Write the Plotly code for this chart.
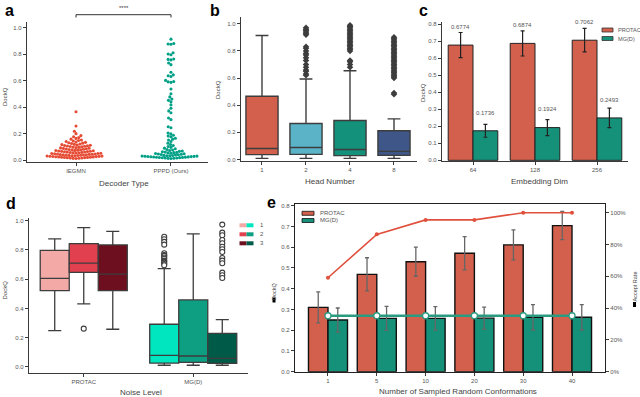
import plotly.graph_objects as go
import numpy as np

W, H = 640, 397

# ---- panel a: swarm of DockQ by decoder type
decoders = ['IEGMN', 'PPPD (Ours)']
iegmn = [0.012, 0.013, 0.014, 0.015, 0.016, 0.017, 0.018, 0.019, 0.020, 0.021,
         0.022, 0.023, 0.024, 0.025, 0.026, 0.027, 0.028, 0.029, 0.030, 0.031,
         0.032, 0.033, 0.034, 0.035, 0.036, 0.037, 0.038, 0.039, 0.040, 0.041,
         0.043, 0.044, 0.045, 0.046, 0.048, 0.049, 0.050, 0.051, 0.053, 0.054,
         0.055, 0.057, 0.058, 0.060, 0.061, 0.063, 0.064, 0.066, 0.067, 0.069,
         0.070, 0.072, 0.073, 0.075, 0.077, 0.078, 0.080, 0.082, 0.084, 0.086,
         0.088, 0.090, 0.092, 0.094, 0.096, 0.098, 0.100, 0.102, 0.104, 0.106,
         0.108, 0.110, 0.112, 0.114, 0.117, 0.119, 0.122, 0.125, 0.128, 0.131,
         0.134, 0.137, 0.140, 0.144, 0.148, 0.152, 0.158, 0.164, 0.170, 0.176,
         0.185, 0.200, 0.218, 0.258, 0.366]
pppd = [0.915, 0.882, 0.879, 0.877, 0.812, 0.803, 0.797, 0.765, 0.762, 0.758,
        0.735, 0.722, 0.665, 0.645, 0.638, 0.632, 0.603, 0.595, 0.592, 0.588,
        0.538, 0.502, 0.478, 0.462, 0.452, 0.441, 0.418, 0.392, 0.372, 0.358,
        0.318, 0.306, 0.252, 0.245, 0.205, 0.198, 0.188, 0.182, 0.176, 0.165,
        0.158, 0.152, 0.140, 0.128, 0.118, 0.110, 0.102, 0.096, 0.090, 0.085,
        0.080, 0.076, 0.072, 0.069, 0.066, 0.063, 0.060, 0.058, 0.056, 0.054,
        0.052, 0.050, 0.048, 0.046, 0.044, 0.042, 0.040, 0.038, 0.035, 0.034,
        0.033, 0.032, 0.031, 0.030, 0.029, 0.028, 0.027, 0.026, 0.025, 0.024,
        0.023, 0.022, 0.021, 0.020, 0.019, 0.018, 0.017, 0.016, 0.015, 0.014,
        0.013, 0.012]

# ---- panel b: box stats by head number
heads = ['1', '2', '4', '8']
b_low = [0.008, 0.008, 0.008, 0.008]
b_q1 = [0.035, 0.037, 0.028, 0.030]
b_med = [0.081, 0.088, 0.073, 0.059]
b_q3 = [0.466, 0.265, 0.287, 0.211]
b_high = [0.914, 0.593, 0.654, 0.299]
b_out2 = [0.97, 0.96, 0.95, 0.94, 0.93, 0.92, 0.83, 0.82, 0.80, 0.78, 0.77,
          0.75, 0.73, 0.70, 0.68, 0.66, 0.65, 0.63, 0.62]
b_out4 = [0.99, 0.98, 0.97, 0.96, 0.95, 0.94, 0.93, 0.92, 0.91, 0.90, 0.89,
          0.88, 0.87, 0.86, 0.85, 0.84, 0.83, 0.82, 0.81, 0.80, 0.73, 0.72,
          0.70, 0.68]
b_out8 = [0.90, 0.89, 0.88, 0.87, 0.86, 0.85, 0.84, 0.83, 0.82, 0.81, 0.80,
          0.79, 0.78, 0.77, 0.76, 0.75, 0.74, 0.73, 0.72, 0.71, 0.70, 0.69,
          0.68, 0.67, 0.66, 0.65, 0.64, 0.63, 0.62, 0.61, 0.60, 0.49, 0.48]

# ---- panel c: embedding dim
dims = ['64', '128', '256']
c_protac = [0.6774, 0.6874, 0.7062]
c_protac_err = [0.074, 0.074, 0.069]
c_mg = [0.1736, 0.1924, 0.2493]
c_mg_err = [0.038, 0.047, 0.057]

# ---- panel d: noise level boxes
noise_groups = ['PROTAC', 'MG(D)']
noise_levels = ['1', '2', '3']
d_protac_low = [0.248, 0.431, 0.258]
d_protac_q1 = [0.522, 0.647, 0.522]
d_protac_med = [0.606, 0.709, 0.634]
d_protac_q3 = [0.797, 0.843, 0.834]
d_protac_high = [0.875, 0.952, 0.927]
d_mg_low = [0.012, 0.012, 0.012]
d_mg_q1 = [0.027, 0.032, 0.025]
d_mg_med = [0.080, 0.075, 0.059]
d_mg_q3 = [0.292, 0.458, 0.230]
d_mg_high = [0.672, 0.909, 0.323]
d_out_protac2 = [0.262]
d_out_mg1 = [0.890, 0.873, 0.855, 0.836, 0.777, 0.765, 0.759, 0.748, 0.740,
             0.727, 0.720, 0.713, 0.703, 0.695]
d_out_mg3 = [0.973, 0.918, 0.900, 0.868, 0.845, 0.822, 0.804, 0.786, 0.745,
             0.727, 0.709, 0.645, 0.627, 0.608]

# ---- panel e: sampled conformations
confs = ['1', '5', '10', '20', '30', '40']
e_protac = [0.310, 0.469, 0.530, 0.571, 0.611, 0.704]
e_protac_err = [0.075, 0.080, 0.070, 0.080, 0.072, 0.068]
e_mg = [0.249, 0.257, 0.257, 0.258, 0.262, 0.262]
e_mg_err = [0.058, 0.058, 0.057, 0.053, 0.061, 0.061]
e_protac_rate = [0.591, 0.864, 0.955, 0.955, 1.0, 1.0]
e_mg_rate = [0.352, 0.352, 0.352, 0.352, 0.352, 0.352]

RED = '#D2604C'
TEAL = '#15917A'
EDGE = '#3d3d3d'


def xd(a, b):
    return [a / W, b / W]


def yd(top, bottom):
    return [1 - bottom / H, 1 - top / H]


def swarm(vals, sx, sy, d):
    # simple beeswarm: place sorted points at the nearest free horizontal offset
    vals = np.asarray(vals)
    offs = np.zeros(len(vals))
    placed = []
    for i in np.argsort(vals):
        y = vals[i] * sy
        near = [(px, py) for px, py in placed if abs(py - y) < d]
        cands = [0.0]
        for px, py in near:
            dx = np.sqrt(d * d - (py - y) ** 2)
            cands += [px - dx, px + dx]
        cands.sort(key=lambda c: (abs(c), c))
        for c in cands:
            if all((c - px) ** 2 + (y - py) ** 2 >= d * d - 1e-6 for px, py in near):
                break
        placed.append((c, y))
        offs[i] = c / sx
    return offs


fig = go.Figure()

# a
for k, (vals, col) in enumerate([(iegmn, '#E64B35'), (pppd, '#00A087')]):
    fig.add_trace(go.Scatter(
        x=k + swarm(vals, 95, 132, 2.9), y=vals, mode='markers',
        marker=dict(color=col, size=3.1, line=dict(width=0)),
        xaxis='x', yaxis='y', showlegend=False, hoverinfo='skip'))

# b
b_cols = ['#D2604C', '#5BB3C7', '#13917A', '#3F5689']
for i in range(4):
    fig.add_trace(go.Box(
        x=[i], q1=[b_q1[i]], median=[b_med[i]], q3=[b_q3[i]],
        lowerfence=[b_low[i]], upperfence=[b_high[i]], width=0.73,
        fillcolor=b_cols[i], line=dict(color=EDGE, width=1.4), whiskerwidth=0.4,
        boxpoints=False, xaxis='x2', yaxis='y2', showlegend=False, hoverinfo='skip'))
for i, outs in [(1, b_out2), (2, b_out4), (3, b_out8)]:
    fig.add_trace(go.Scatter(
        x=[i] * len(outs), y=outs, mode='markers',
        marker=dict(symbol='diamond', size=5, color=EDGE, line=dict(width=0)),
        xaxis='x2', yaxis='y2', showlegend=False, hoverinfo='skip'))

# c
for vals, err, col in [(c_protac, c_protac_err, RED), (c_mg, c_mg_err, TEAL)]:
    fig.add_trace(go.Bar(
        x=[0, 1, 2], y=vals,
        error_y=dict(type='data', array=err, color='#222', thickness=1.2, width=2),
        marker=dict(color=col, line=dict(color='#222', width=1)),
        xaxis='x3', yaxis='y3', showlegend=False, hoverinfo='skip'))

# d
d_pcols = ['#F3A9A6', '#E1414F', '#6D0F1F']
d_mcols = ['#00E6BF', '#0E9E82', '#005A48']
bw = 0.265
for j in range(3):
    pos = (j - 1) * bw
    fig.add_trace(go.Box(
        x=[pos], q1=[d_protac_q1[j]], median=[d_protac_med[j]], q3=[d_protac_q3[j]],
        lowerfence=[d_protac_low[j]], upperfence=[d_protac_high[j]], width=bw,
        fillcolor=d_pcols[j], line=dict(color=EDGE, width=1.3), whiskerwidth=0.45,
        boxpoints=False, xaxis='x4', yaxis='y4', showlegend=False, hoverinfo='skip'))
    fig.add_trace(go.Box(
        x=[1 + pos], q1=[d_mg_q1[j]], median=[d_mg_med[j]], q3=[d_mg_q3[j]],
        lowerfence=[d_mg_low[j]], upperfence=[d_mg_high[j]], width=bw,
        fillcolor=d_mcols[j], line=dict(color=EDGE, width=1.3), whiskerwidth=0.45,
        boxpoints=False, xaxis='x4', yaxis='y4', showlegend=False, hoverinfo='skip'))
for pos, outs in [(0, d_out_protac2), (1 - bw, d_out_mg1), (1 + bw, d_out_mg3)]:
    fig.add_trace(go.Scatter(
        x=[pos] * len(outs), y=outs, mode='markers',
        marker=dict(symbol='circle', size=5, color='white', line=dict(color=EDGE, width=1.1)),
        xaxis='x4', yaxis='y4', showlegend=False, hoverinfo='skip'))

# e
xs = list(range(len(confs)))
for vals, err, col in [(e_protac, e_protac_err, RED), (e_mg, e_mg_err, TEAL)]:
    fig.add_trace(go.Bar(
        x=xs, y=vals,
        error_y=dict(type='data', array=err, color='#666', thickness=1.3, width=2),
        marker=dict(color=col, line=dict(color='#111', width=1.4)),
        xaxis='x5', yaxis='y5', showlegend=False, hoverinfo='skip'))
fig.add_trace(go.Scatter(
    x=xs, y=e_protac_rate, mode='lines+markers',
    line=dict(color='#E0503C', width=1.6), marker=dict(color='#E0503C', size=4),
    xaxis='x5', yaxis='y6', showlegend=False, hoverinfo='skip'))
fig.add_trace(go.Scatter(
    x=xs, y=e_mg_rate, mode='lines+markers',
    line=dict(color='#2A9A80', width=2.6),
    marker=dict(color='white', size=6, line=dict(color='#2A9A80', width=1.3)),
    xaxis='x5', yaxis='y6', showlegend=False, hoverinfo='skip'))


def ax(**kw):
    base = dict(showline=True, linecolor='#3a3a3a', linewidth=1.2, ticks='outside',
                ticklen=3, tickwidth=1, tickcolor='#3a3a3a',
                tickfont=dict(size=6, color='#555', family='Liberation Sans'),
                showgrid=False, zeroline=False, fixedrange=True)
    base.update(kw)
    return base


fig.update_layout(
    width=W, height=H, margin=dict(l=0, r=0, t=0, b=0),
    paper_bgcolor='white', plot_bgcolor='white', template='none',
    barmode='group', bargap=0.2, bargroupgap=0,
    font=dict(family='Liberation Sans', color='#444'),
    xaxis=ax(domain=xd(27, 208), range=[-0.516, 1.39], tickvals=[0, 1], ticktext=decoders, anchor='y'),
    yaxis=ax(domain=yd(22, 161.5), range=[-0.011, 1.045], tickvals=[0, 0.2, 0.4, 0.6, 0.8, 1.0], tickformat='.1f', anchor='x'),
    xaxis2=ax(domain=xd(241, 417), range=[-0.477, 3.523], tickvals=[0, 1, 2, 3], ticktext=heads, anchor='y2'),
    yaxis2=ax(domain=yd(17, 160.5), range=[-0.008, 1.05], tickvals=[0, 0.2, 0.4, 0.6, 0.8, 1.0], tickformat='.1f', anchor='x2'),
    xaxis3=ax(domain=xd(442, 628), range=[-0.5, 2.5], tickvals=[0, 1, 2], ticktext=dims, anchor='y3'),
    yaxis3=ax(domain=yd(21.7, 161), range=[-0.004, 0.815], tickvals=[i / 10 for i in range(9)], tickformat='.1f', anchor='x3'),
    xaxis4=ax(domain=xd(29, 248), range=[-0.5, 1.5], tickvals=[0, 1], ticktext=noise_groups, anchor='y4'),
    yaxis4=ax(domain=yd(218, 372.7), range=[-0.039, 1.018], tickvals=[0, 0.2, 0.4, 0.6, 0.8, 1.0], tickformat='.1f', anchor='x4'),
    xaxis5=ax(domain=xd(295, 605), range=[-0.676, 5.676], tickvals=xs, ticktext=confs, anchor='y5', mirror=True, linecolor='#222'),
    yaxis5=ax(domain=yd(204, 371.7), range=[0, 0.808], tickvals=[i / 10 for i in range(9)], tickformat='.1f', anchor='x5', linecolor='#222'),
    yaxis6=ax(range=[0, 1.055], tickvals=[0, 0.2, 0.4, 0.6, 0.8, 1.0], tickformat='.0%', overlaying='y5', side='right', anchor='x5', linecolor='#222'),
)

ann = []
shapes = []


def text(x, y, s, size=6, color='#444', angle=0, bold=False, xanchor='center', yanchor='middle'):
    ann.append(dict(x=x / W, y=1 - y / H, xref='paper', yref='paper', text=f'<b>{s}</b>' if bold else s,
                    showarrow=False, xanchor=xanchor, yanchor=yanchor, textangle=angle,
                    font=dict(size=size, color=color, family='Liberation Sans')))


# panel letters
for lab, x, y in [('a', 9, 0), ('b', 214.5, 0), ('c', 423, 0), ('d', 11, 193), ('e', 271, 192)]:
    text(x, y, lab, size=16, color='black', bold=True, yanchor='top')

# axis titles
for s, x, y in [('Decoder Type', 124, 183), ('Head Number', 330, 182), ('Embedding Dim', 539, 182),
                ('Noise Level', 141, 392.5), ('Number of Sampled Random Conformations', 458, 391.5)]:
    text(x, y, s, size=8)
for x, y in [(5, 97), (218, 90), (423, 93), (4.5, 290)]:
    text(x, y, 'DockQ', size=6, angle=-90)
text(274, 291, 'DockQ', size=5.5, angle=-90)
shapes.append(dict(type='rect', xref='paper', yref='paper', x0=272.5 / W, x1=275.5 / W,
                   y0=1 - 302.5 / H, y1=1 - 297.5 / H, fillcolor='black', line=dict(width=0)))
text(634.5, 287, 'Accept Rate', size=5.5, angle=-90)
shapes.append(dict(type='rect', xref='paper', yref='paper', x0=633 / W, x1=636 / W,
                   y0=1 - 307 / H, y1=1 - 302 / H, fillcolor='black', line=dict(width=0)))

# significance bracket in a
text(124, 8, '****', size=6, color='#333')
shapes.append(dict(type='path', xref='paper', yref='paper',
                   path=f'M {76 / W},{1 - 17.5 / H} L {76 / W},{1 - 14.7 / H} L {171 / W},{1 - 14.7 / H} L {171 / W},{1 - 17.5 / H}',
                   line=dict(color='#333', width=1)))

# value labels in c
for k, (vals, off) in enumerate([(c_protac, -0.2), (c_mg, 0.2)]):
    for i, v in enumerate(vals):
        ann.append(dict(x=i + off, y=v + 0.107, xref='x3', yref='y3', text=f'{v:.4f}', showarrow=False,
                        font=dict(size=6, color='#555', family='Liberation Sans')))


def patch(x0, x1, yc, h, col, edge=None):
    shapes.append(dict(type='rect', xref='paper', yref='paper', x0=x0 / W, x1=x1 / W,
                       y0=1 - (yc + h / 2) / H, y1=1 - (yc - h / 2) / H, fillcolor=col,
                       line=dict(color=edge or col, width=0.8 if edge else 0)))


# legend c
for yc, col, lab in [(30, RED, 'PROTAC'), (38.5, TEAL, 'MG(D)')]:
    patch(602, 613, yc, 4, col, '#333')
    text(615.5, yc, lab, size=5.6, color='#555', xanchor='left')

# legend d
for j, yc in enumerate([225.3, 234.3, 243.3]):
    patch(239.5, 246.5, yc, 4, d_pcols[j])
    patch(246.5, 253.5, yc, 4, d_mcols[j])
    text(258, yc, noise_levels[j], size=6, color='#555', xanchor='left')

# legend e
for yc, col, lab in [(213.3, RED, 'PROTAC'), (220.5, TEAL, 'MG(D)')]:
    patch(302, 314, yc, 4, col, '#111')
    text(317.5, yc, lab, size=6, color='#555', xanchor='left')

fig.update_layout(annotations=ann, shapes=shapes)
# drop the default 8px page margin so the figure sits at the window's corner
fig.write_html('out.html', config={'displayModeBar': False},
               post_script="document.body.style.margin='0';")
